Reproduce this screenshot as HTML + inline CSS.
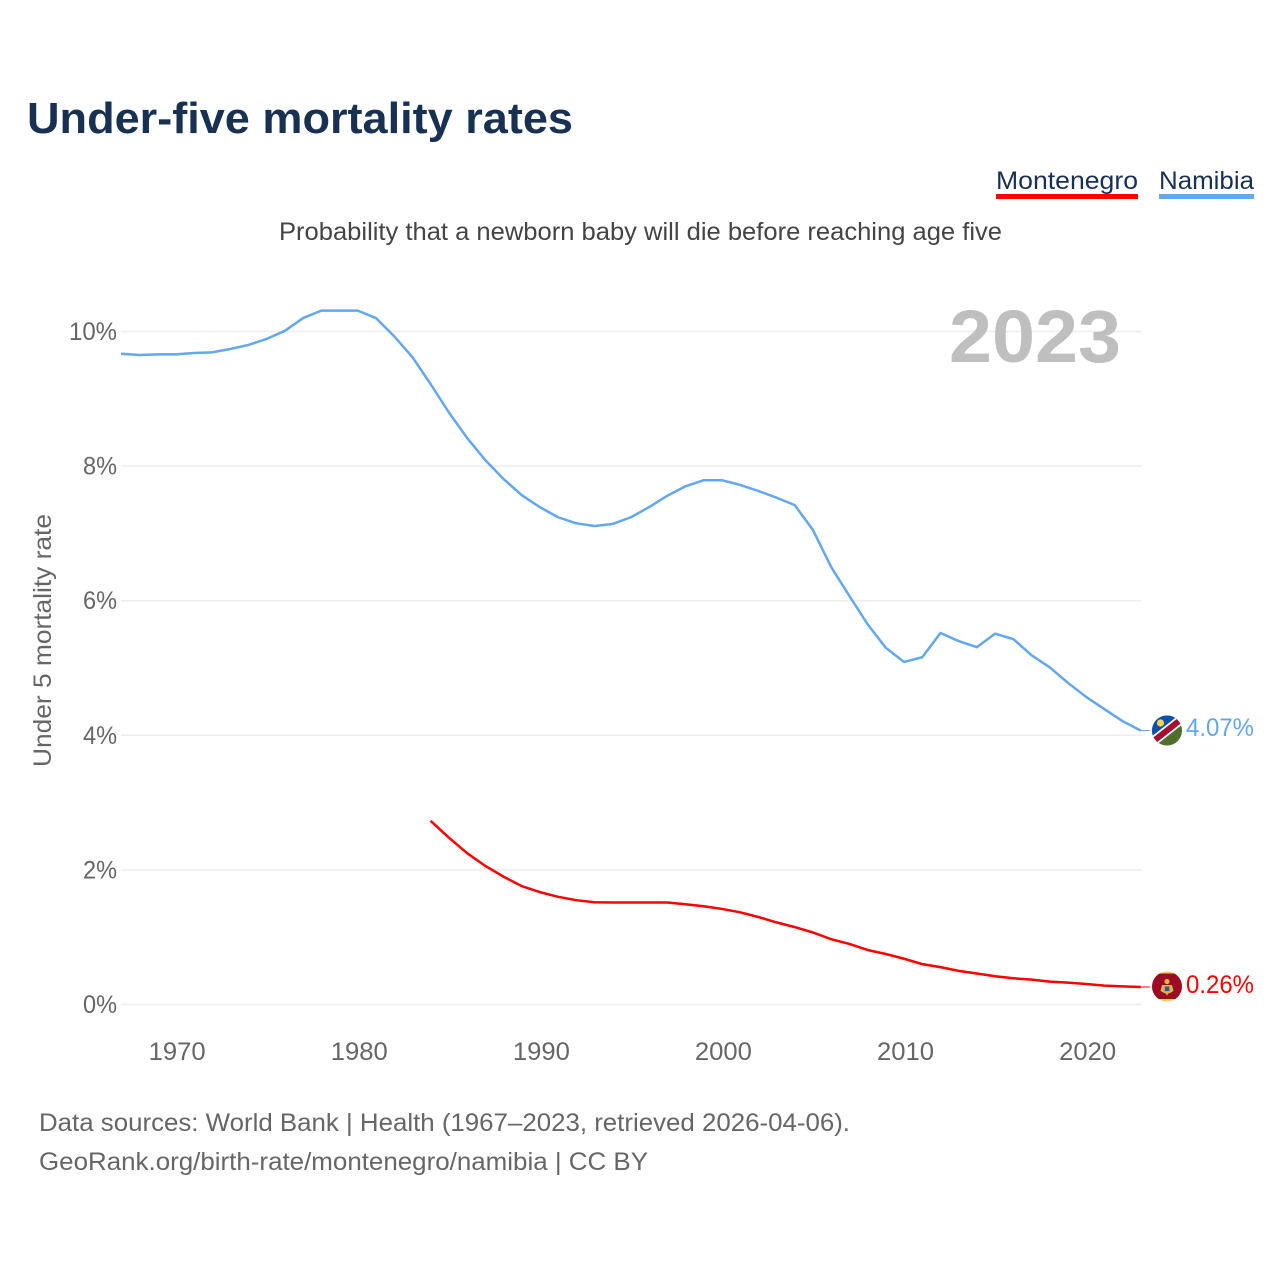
<!DOCTYPE html>
<html>
<head>
<meta charset="utf-8">
<style>
html,body{margin:0;padding:0;background:#fff}
svg{display:block;font-family:"Liberation Sans",sans-serif}
</style>
</head>
<body>
<svg id="chart" width="1280" height="1280" viewBox="0 0 1280 1280" xmlns="http://www.w3.org/2000/svg">
<defs>
<clipPath id="flag-clip-a"><circle cx="1167" cy="730.5" r="15"/></clipPath>
<clipPath id="flag-clip-b"><circle cx="1167" cy="986.5" r="15"/></clipPath>
</defs>
<rect width="1280" height="1280" fill="#fff"/>
<text x="27" y="133" font-size="44" font-weight="700" fill="#183153" textLength="546" lengthAdjust="spacingAndGlyphs">Under-five mortality rates</text>
<text x="996" y="189" font-size="25" fill="#183153" textLength="142" lengthAdjust="spacingAndGlyphs">Montenegro</text>
<rect x="996" y="194" width="142" height="5" fill="#ff0000"/>
<text x="1159" y="189" font-size="25" fill="#183153" textLength="95" lengthAdjust="spacingAndGlyphs">Namibia</text>
<rect x="1159" y="194" width="95" height="5" fill="#63a7ee"/>
<text x="279" y="240" font-size="25" fill="#444" textLength="723" lengthAdjust="spacingAndGlyphs">Probability that a newborn baby will die before reaching age five</text>
<g id="grid"></g>
<g id="yticks"></g>
<g id="xticks"></g>
<text x="949" y="362" font-size="74" font-weight="700" fill="#bfbfbf" textLength="172" lengthAdjust="spacingAndGlyphs">2023</text>
<text transform="translate(51,767) rotate(-90)" font-size="25" fill="#666" textLength="253" lengthAdjust="spacingAndGlyphs">Under 5 mortality rate</text>
<g id="series"></g>
<g clip-path="url(#flag-clip-a)">
<rect x="1152" y="715" width="30" height="31" fill="#4f6f2f"/>
<polygon points="1150,713 1184,713 1150,745" fill="#0a50b0"/>
<line x1="1148" y1="745.5" x2="1186" y2="715.5" stroke="#ffffff" stroke-width="9.5"/>
<line x1="1148" y1="745.5" x2="1186" y2="715.5" stroke="#a80f2e" stroke-width="6"/>
<circle cx="1160.5" cy="723" r="3.6" fill="#f8d24a"/>
</g>
<g clip-path="url(#flag-clip-b)">
<rect x="1152" y="971" width="30" height="31" fill="#f4cf55"/>
<rect x="1152" y="973.5" width="30" height="25.5" fill="#9c0b26"/>
<circle cx="1167" cy="981.5" r="2.6" fill="#e3b53a"/>
<polygon points="1162,985 1172,985 1173.5,991 1170,993 1164,993 1160.5,991" fill="#e3b53a"/>
<rect x="1164.8" y="986.5" width="4.6" height="4.6" fill="#2a5aa8"/>
<polygon points="1165,993 1169,993 1167,995.5" fill="#d9a92f"/>
</g>
<text x="1186" y="736" font-size="25" fill="#63a7ee" textLength="68" lengthAdjust="spacingAndGlyphs">4.07%</text>
<text x="1186" y="993" font-size="25" fill="#ff0000" textLength="68" lengthAdjust="spacingAndGlyphs">0.26%</text>
<text x="39" y="1131" font-size="25" fill="#666" textLength="811" lengthAdjust="spacingAndGlyphs">Data sources: World Bank | Health (1967–2023, retrieved 2026-04-06).</text>
<text x="39" y="1170" font-size="25" fill="#666" textLength="609" lengthAdjust="spacingAndGlyphs">GeoRank.org/birth-rate/montenegro/namibia | CC BY</text>
</svg>
<script>
const yTickValues = [0, 2, 4, 6, 8, 10];
const yTickLabels = ["0%", "2%", "4%", "6%", "8%", "10%"];
const xTickYears = [1970, 1980, 1990, 2000, 2010, 2020];
const namibiaStartYear = 1967;
const namibiaValues = [9.67,9.65,9.66,9.66,9.68,9.69,9.74,9.80,9.89,10.01,10.20,10.31,10.31,10.31,10.20,9.93,9.62,9.22,8.80,8.42,8.09,7.81,7.57,7.39,7.24,7.15,7.11,7.14,7.24,7.39,7.56,7.70,7.79,7.79,7.72,7.63,7.53,7.42,7.05,6.50,6.07,5.65,5.30,5.09,5.16,5.52,5.40,5.31,5.51,5.43,5.19,5.01,4.78,4.57,4.39,4.21,4.07];
const montenegroStartYear = 1984;
const montenegroValues = [2.73,2.48,2.25,2.06,1.90,1.76,1.67,1.60,1.55,1.52,1.515,1.515,1.515,1.515,1.49,1.46,1.42,1.37,1.30,1.22,1.15,1.07,0.97,0.90,0.81,0.75,0.68,0.60,0.555,0.50,0.46,0.42,0.39,0.37,0.34,0.325,0.305,0.28,0.27,0.26];

const svgNS = "http://www.w3.org/2000/svg";
function xScale(year) { return 121 + (year - 1967) * 18.21; }
function yScale(pct) { return 1004.5 - pct * 67.3; }
function linePath(startYear, values) {
  return values.map(function (v, i) {
    return (i ? "L" : "M") + xScale(startYear + i).toFixed(2) + " " + yScale(v).toFixed(2);
  }).join(" ");
}

const gridGroup = document.getElementById("grid");
const yGroup = document.getElementById("yticks");
yTickValues.forEach(function (v, i) {
  const gl = document.createElementNS(svgNS, "line");
  gl.setAttribute("x1", 121);
  gl.setAttribute("x2", 1142);
  gl.setAttribute("y1", yScale(v));
  gl.setAttribute("y2", yScale(v));
  gl.setAttribute("stroke", "#eeeeee");
  gl.setAttribute("stroke-width", "1.5");
  
  
  gridGroup.appendChild(gl);
  const t = document.createElementNS(svgNS, "text");
  t.setAttribute("x", 117);
  t.setAttribute("y", yScale(v) + 8.5);
  t.setAttribute("text-anchor", "end");
  t.setAttribute("font-size", "25");
  t.setAttribute("fill", "#666");
  t.setAttribute("textLength", yTickLabels[i].length === 3 ? 48 : 34);
  t.setAttribute("lengthAdjust", "spacingAndGlyphs");
  
  
  t.textContent = yTickLabels[i];
  yGroup.appendChild(t);
});

const xGroup = document.getElementById("xticks");
xTickYears.forEach(function (year) {
  const t = document.createElementNS(svgNS, "text");
  t.setAttribute("x", xScale(year) + 1.5);
  t.setAttribute("y", 1060);
  t.setAttribute("text-anchor", "middle");
  t.setAttribute("font-size", "25");
  t.setAttribute("fill", "#666");
  t.setAttribute("textLength", 57);
  t.setAttribute("lengthAdjust", "spacingAndGlyphs");
  
  
  t.textContent = String(year);
  xGroup.appendChild(t);
});

const seriesGroup = document.getElementById("series");

const namibiaLine = document.createElementNS(svgNS, "path");
namibiaLine.setAttribute("d", linePath(namibiaStartYear, namibiaValues));
namibiaLine.setAttribute("fill", "none");
namibiaLine.setAttribute("stroke", "#63a7ee");
namibiaLine.setAttribute("stroke-width", "2.5");
namibiaLine.setAttribute("stroke-linejoin", "round");


seriesGroup.appendChild(namibiaLine);

const montenegroLine = document.createElementNS(svgNS, "path");
montenegroLine.setAttribute("d", linePath(montenegroStartYear, montenegroValues));
montenegroLine.setAttribute("fill", "none");
montenegroLine.setAttribute("stroke", "#ff0000");
montenegroLine.setAttribute("stroke-width", "2.5");
montenegroLine.setAttribute("stroke-linejoin", "round");


seriesGroup.appendChild(montenegroLine);

const namibiaLeader = document.createElementNS(svgNS, "line");
namibiaLeader.setAttribute("x1", xScale(2023));
namibiaLeader.setAttribute("x2", 1150);
namibiaLeader.setAttribute("y1", yScale(namibiaValues[namibiaValues.length - 1]));
namibiaLeader.setAttribute("y2", yScale(namibiaValues[namibiaValues.length - 1]));
namibiaLeader.setAttribute("stroke", "#63a7ee");
namibiaLeader.setAttribute("stroke-width", "1");


seriesGroup.appendChild(namibiaLeader);

const montenegroLeader = document.createElementNS(svgNS, "line");
montenegroLeader.setAttribute("x1", xScale(2023));
montenegroLeader.setAttribute("x2", 1150);
montenegroLeader.setAttribute("y1", yScale(montenegroValues[montenegroValues.length - 1]));
montenegroLeader.setAttribute("y2", yScale(montenegroValues[montenegroValues.length - 1]));
montenegroLeader.setAttribute("stroke", "#ff0000");
montenegroLeader.setAttribute("stroke-width", "1");


seriesGroup.appendChild(montenegroLeader);
</script>
</body>
</html>
